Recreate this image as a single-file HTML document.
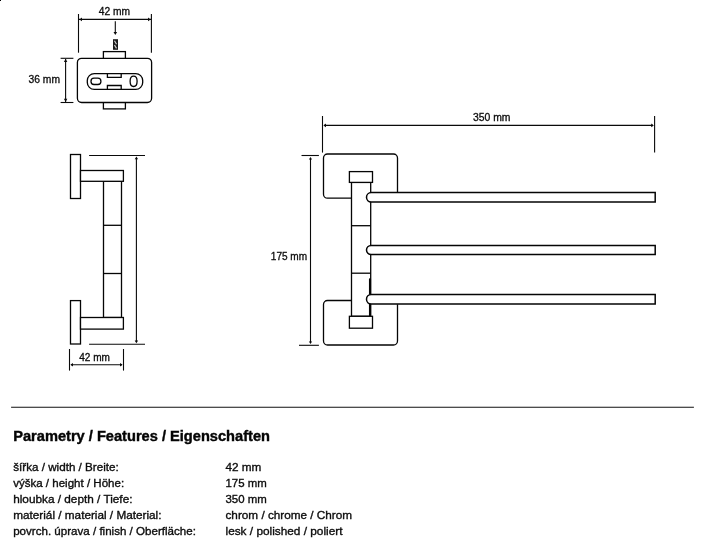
<!DOCTYPE html>
<html>
<head>
<meta charset="utf-8">
<title>Parametry</title>
<style>
html,body{margin:0;padding:0;background:#fff;}
body{width:702px;height:547px;overflow:hidden;font-family:"Liberation Sans",sans-serif;}
svg{display:block;filter:grayscale(1);}
svg text{font-family:"Liberation Sans",sans-serif;fill:#0c0c0c;stroke:#0c0c0c;stroke-width:0.25px;}
.l{stroke:#050505;stroke-width:1.3;fill:none;}
.m{stroke:#0a0a0a;stroke-width:1.1;fill:none;}
.f{stroke:#050505;stroke-width:1.3;fill:#fff;}
.b{stroke-width:1.5;}
.a{fill:#0a0a0a;stroke:none;}
.d{font-size:10px;stroke-width:0.3px;}
.t{font-size:11.7px;stroke-width:0.35px;}
.h{font-size:14.2px;font-weight:bold;fill:#050505;stroke:#050505;stroke-width:0.4px;}
</style>
</head>
<body>
<svg width="702" height="547" viewBox="0 0 702 547">
<rect x="0" y="0" width="702" height="547" fill="#fff"/>
<rect x="0" y="0" width="1" height="1" fill="#000"/>

<!-- ===== top-left: wall plate front view ===== -->
<g>
  <!-- 42 mm dimension -->
  <line class="m" x1="78.5" y1="14" x2="78.5" y2="52.7"/>
  <line class="m" x1="151.4" y1="14" x2="151.4" y2="52.7"/>
  <line class="m" x1="79" y1="19.4" x2="151" y2="19.4"/>
  <path class="a" d="M79.4 19.4 l2.6 -1.8 v3.6z"/>
  <path class="a" d="M150.6 19.4 l-2.6 -1.8 v3.6z"/>
  <text class="d" x="98.7" y="14.7" textLength="31.3" lengthAdjust="spacingAndGlyphs">42 mm</text>
  <!-- arrow to screw -->
  <line class="m" x1="115.3" y1="21.2" x2="115.3" y2="33"/>
  <path class="a" d="M115.3 34.9 l-1.8 -2.9 h3.6z"/>
  <!-- screw -->
  <rect x="113" y="39.2" width="5" height="10.6" fill="#1a1a1a"/>
  <path d="M114.5 40.8 l2 3.4 M114.5 45 l2 3.4" stroke="#d0d0d0" stroke-width="1.2" fill="none"/>
  <!-- tabs -->
  <rect class="f" x="103.4" y="51.6" width="22" height="8"/>
  <rect class="f" x="103.4" y="101" width="22" height="7.9"/>
  <!-- body -->
  <rect class="f" x="77.4" y="58.3" width="74.2" height="44.2" rx="4.2" ry="4.2"/>
  <!-- slot -->
  <rect class="f" x="87.3" y="73.6" width="55.4" height="15.8" rx="7" ry="7"/>
  <rect class="f" x="91" y="78.2" width="9.9" height="6.3" rx="3" ry="3"/>
  <path class="f" d="M133.6 76.2 c2 0 3.5 2 3.5 5.1 s-1.500 5.200 -3.500 5.200 s-3.500 -2.100 -3.500 -5.200 s1.500 -5.100 3.500 -5.100z"/>
  <path class="l" d="M107.4 73.6 V77.4 H121.2 V73.6"/>
  <path class="l" d="M107.4 89.4 V85.5 H121.2 V89.4"/>
  <!-- 36 mm dimension -->
  <line class="m" x1="60.6" y1="58.3" x2="73.4" y2="58.3"/>
  <line class="m" x1="60.6" y1="102.5" x2="73.4" y2="102.5"/>
  <line class="m" x1="65.6" y1="59" x2="65.6" y2="102"/>
  <path class="a" d="M65.6 58.8 l-1.7 3.2 h3.4z"/>
  <path class="a" d="M65.6 102 l-1.700 -3.200 h3.400z"/>
  <text class="d" x="28.5" y="83" textLength="31.5" lengthAdjust="spacingAndGlyphs">36 mm</text>
</g>

<!-- ===== left-middle: side view ===== -->
<g>
  <rect class="f" x="70.5" y="154.5" width="10" height="44"/>
  <rect class="f" x="70.5" y="300.6" width="10" height="43.4"/>
  <rect class="f" x="103.5" y="181.3" width="18" height="136.2"/>
  <rect class="f" x="80.5" y="170.5" width="42.9" height="10.8"/>
  <rect class="f" x="80.5" y="317.5" width="42.9" height="11.6"/>
  <line class="l" x1="103.5" y1="225.3" x2="121.5" y2="225.3"/>
  <line class="l" x1="103.5" y1="273.5" x2="121.5" y2="273.5"/>
  <!-- height dimension -->
  <line class="m" x1="89.1" y1="155.5" x2="145" y2="155.5"/>
  <line class="m" x1="89.1" y1="344.2" x2="145" y2="344.2"/>
  <line class="m" x1="136.4" y1="158" x2="136.4" y2="342"/>
  <path class="a" d="M136.400 156.600 l-1.700 2.600 h3.400z"/>
  <path class="a" d="M136.400 343.200 l-1.700 -2.600 h3.400z"/>
  <!-- 42 mm -->
  <line class="m" x1="69.500" y1="349" x2="69.500" y2="370.600"/>
  <line class="m" x1="123.500" y1="349" x2="123.500" y2="370.600"/>
  <line class="m" x1="71" y1="364.700" x2="122" y2="364.700"/>
  <path class="a" d="M70.400 364.700 l2.600 -1.800 v3.600z"/>
  <path class="a" d="M122.600 364.700 l-2.600 -1.800 v3.600z"/>
  <text class="d" x="79.200" y="361.400" textLength="30.700" lengthAdjust="spacingAndGlyphs">42 mm</text>
</g>

<!-- ===== right: top view ===== -->
<g>
  <!-- 350 mm -->
  <line class="m" x1="322.500" y1="116" x2="322.500" y2="152.600"/>
  <line class="m" x1="654.600" y1="116" x2="654.600" y2="152.600"/>
  <line class="m" x1="324" y1="125.400" x2="653" y2="125.400"/>
  <path class="a" d="M323.400 125.400 l2.600 -1.800 v3.600z"/>
  <path class="a" d="M653.800 125.400 l-2.600 -1.800 v3.600z"/>
  <text class="d" x="473" y="120.700" textLength="37.500" lengthAdjust="spacingAndGlyphs">350 mm</text>
  <!-- 175 mm -->
  <line class="m" x1="301.500" y1="155.500" x2="318.900" y2="155.500"/>
  <line class="m" x1="299" y1="345.300" x2="318.900" y2="345.300"/>
  <line class="m" x1="310.500" y1="159" x2="310.500" y2="342"/>
  <path class="a" d="M310.500 157 l-1.600 2.600 h3.200z"/>
  <path class="a" d="M310.500 344 l-1.600 -2.600 h3.200z"/>
  <text class="d" x="270.800" y="259.900" textLength="36.300" lengthAdjust="spacingAndGlyphs">175 mm</text>
  <!-- plates -->
  <path class="l" d="M351.500 198.200 H327.500 a4 4 0 0 1 -4 -4 V158 a4 4 0 0 1 4 -4 H393.500 a4 4 0 0 1 4 4 V192.400"/>
  <path class="l" d="M351.500 300.500 H327.500 a4 4 0 0 0 -4 4 V341 a4 4 0 0 0 4 4 H393.500 a4 4 0 0 0 4 -4 V304.200"/>
  <!-- vertical bar -->
  <rect class="f" x="351.500" y="182.400" width="19.200" height="133.900"/>
  <line class="l" x1="351.500" y1="225.700" x2="370.700" y2="225.700"/>
  <line class="l" x1="351.500" y1="273.200" x2="370.700" y2="273.200"/>
  <line class="l" style="stroke-width:2.100" x1="370" y1="278.400" x2="370" y2="316.200"/>
  <!-- caps -->
  <rect class="f" x="349.400" y="171.600" width="23.100" height="10.800"/>
  <rect class="f" x="349.400" y="316.300" width="23.100" height="11.900"/>
  <!-- bars -->
  <path class="f b" d="M655.200 192.600 H371.250 a4.750 4.750 0 0 0 0 9.500 H655.200z"/>
  <path class="f b" d="M655.200 245.400 H371.100 a4.600 4.600 0 0 0 0 9.200 H655.200z"/>
  <path class="f b" d="M655.200 294.450 H371.275 a4.775 4.775 0 0 0 0 9.550 H655.200z"/>
</g>

<!-- ===== text ===== -->
<line x1="11.1" y1="407.2" x2="693.9" y2="407.2" stroke="#111" stroke-width="1.1"/>
<text class="h" x="13.2" y="440.6" textLength="256.8" lengthAdjust="spacingAndGlyphs">Parametry / Features / Eigenschaften</text>

<text class="t" x="13.2" y="470.6" textLength="105.6" lengthAdjust="spacingAndGlyphs">šířka / width / Breite:</text>
<text class="t" x="13.2" y="486.8" textLength="110.9" lengthAdjust="spacingAndGlyphs">výška / height / Höhe:</text>
<text class="t" x="13.2" y="502.9" textLength="119.3" lengthAdjust="spacingAndGlyphs">hloubka / depth / Tiefe:</text>
<text class="t" x="13.2" y="519.1" textLength="148.3" lengthAdjust="spacingAndGlyphs">materiál / material / Material:</text>
<text class="t" x="13.2" y="535.2" textLength="182.7" lengthAdjust="spacingAndGlyphs">povrch. úprava / finish / Oberfläche:</text>

<text class="t" x="225.5" y="470.6" textLength="35.9" lengthAdjust="spacingAndGlyphs">42 mm</text>
<text class="t" x="225.5" y="486.8" textLength="41.3" lengthAdjust="spacingAndGlyphs">175 mm</text>
<text class="t" x="225.5" y="502.9" textLength="41.3" lengthAdjust="spacingAndGlyphs">350 mm</text>
<text class="t" x="225.5" y="519.1" textLength="126.6" lengthAdjust="spacingAndGlyphs">chrom / chrome / Chrom</text>
<text class="t" x="225.5" y="535.2" textLength="117" lengthAdjust="spacingAndGlyphs">lesk / polished / poliert</text>
</svg>
</body>
</html>
